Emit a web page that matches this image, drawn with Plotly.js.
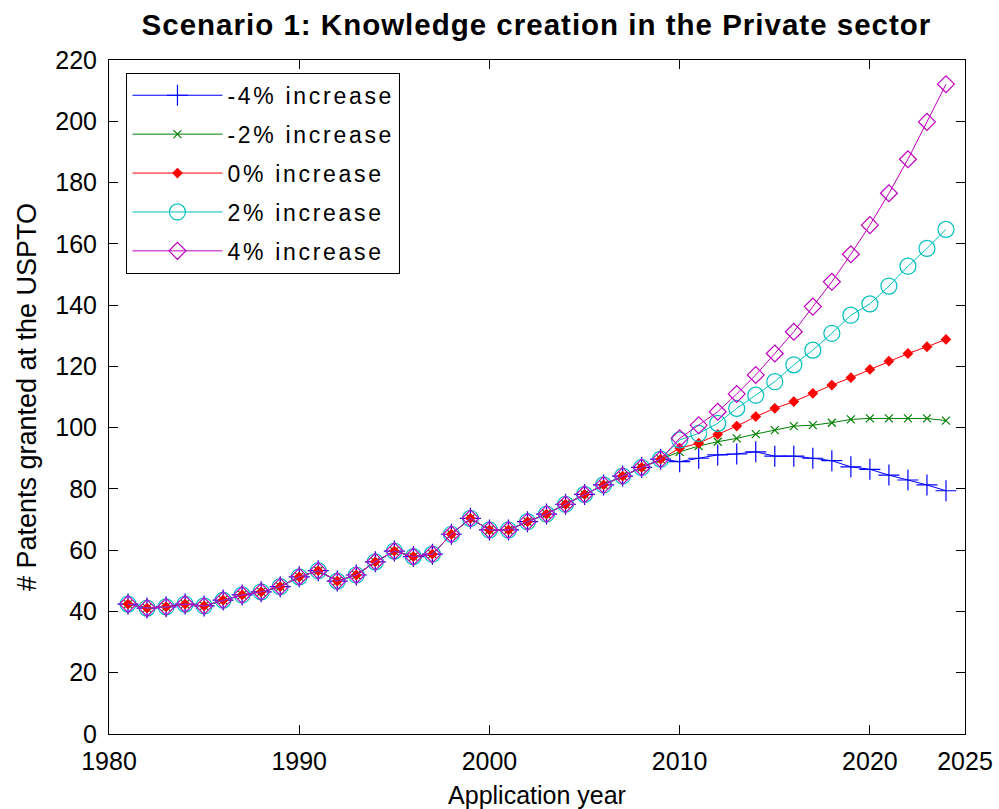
<!DOCTYPE html>
<html><head><meta charset="utf-8">
<script src="https://cdn.plot.ly/plotly-3.0.1.min.js"></script>
<style>
html,body{margin:0;padding:0;background:#fff;}
#chart{width:999px;height:809px;}
.legendtext{letter-spacing:2.7px;}
.gtitle{letter-spacing:1px;}
</style>
</head><body><div id="chart"></div>
<script>
// Observed years (shared by all scenarios)
const histYears = [1981,1982,1983,1984,1985,1986,1987,1988,1989,1990,1991,1992,1993,1994,1995,
                   1996,1997,1998,1999,2000,2001,2002,2003,2004,2005,2006,2007,2008,2009];
const histValues = [42.4,41.1,41.5,42.4,41.8,43.7,45.4,46.4,48.1,51.3,53.3,49.9,51.9,56.2,59.7,
                    57.9,58.7,65.2,70.4,66.6,66.6,69.3,71.8,75.0,78.2,81.3,84.2,87.0,89.7];
// Projection years
const projYears = [2010,2011,2012,2013,2014,2015,2016,2017,2018,2019,2020,2021,2022,2023,2024];
const projM4 = [88.9,90.0,91.1,91.4,92.1,90.7,90.7,90.0,89.2,87.2,86.4,84.5,82.9,81.3,79.4];
const projM2 = [92.1,94.0,95.4,96.5,97.9,99.2,100.5,100.8,101.6,102.7,103.0,103.0,103.0,103.0,102.3];
const proj0  = [93.3,94.9,97.8,100.5,103.6,106.3,108.5,111.2,113.9,116.3,119.0,121.7,124.2,126.4,128.8];
const projP2 = [96.0,98.1,101.4,106.3,110.6,115.0,120.5,125.3,130.8,136.7,140.4,146.2,152.7,158.5,164.7];
const projP4 = [96.5,100.8,105.2,111.0,117.2,124.2,131.3,139.5,147.6,156.6,166.1,176.5,187.6,199.8,212.1];

const seriesNames = ['-4% increase','-2% increase','0% increase','2% increase','4% increase'];
const xTickVals = [1980,1990,2000,2010,2020,2025];
const yTickVals = [0,20,40,60,80,100,120,140,160,180,200,220];

const proj = [projM4, projM2, proj0, projP2, projP4];
const colors = ['#0000FF','#008000','#FF0000','#00BFBF','#BF00BF'];
const symbols = ['cross-thin-open','x-thin-open','diamond','circle-open','diamond-open'];
const sizes = [15,8,7,16,13];

const allYears = histYears.concat(projYears);
const traces = proj.map((p,i)=>({
  type:'scatter', mode:'lines+markers',
  x: allYears, y: histValues.concat(p),
  name: seriesNames[i], legendgroup: 'g'+i,
  line:{color:colors[i], width:1},
  marker:{symbol:symbols[i], size:sizes[i], color:colors[i], line:{color:colors[i], width:1.2}}
}));

const font = 'Liberation Sans, Arial, Helvetica, sans-serif';
const layout = {
  width:999, height:809,
  margin:{l:108.5, r:33.5, t:60, b:75, pad:0},
  paper_bgcolor:'#fff', plot_bgcolor:'#fff',
  title:{text:'<b>Scenario 1: Knowledge creation in the Private sector</b>',
         font:{family:font, size:29.5, color:'#000'}, x:0.537, xanchor:'center', y:0.970, yanchor:'middle'},
  xaxis:{range:[1980,2025], tickvals:xTickVals, ticktext:xTickVals.map(String),
         ticks:'inside', ticklen:9, tickwidth:1, tickcolor:'#000',
         showline:true, linecolor:'#000', linewidth:1, mirror:'ticks',
         showgrid:false, zeroline:false,
         tickfont:{family:font, size:25, color:'#000'}, ticklabelstandoff:5,
         title:{text:'Application year', font:{family:font, size:25, color:'#000'}, standoff:12}},
  yaxis:{range:[0,220], tickvals:yTickVals, ticktext:yTickVals.map(String),
         ticks:'inside', ticklen:9, tickwidth:1, tickcolor:'#000',
         showline:true, linecolor:'#000', linewidth:1, mirror:'ticks',
         showgrid:false, zeroline:false,
         tickfont:{family:font, size:25, color:'#000'}, ticklabelstandoff:6,
         title:{text:'# Patents granted at the USPTO', font:{family:font, size:27, color:'#000'}, standoff:10}},
  legend:{x:0.0204, xanchor:'left', y:0.981, yanchor:'top',
          bgcolor:'#fff', bordercolor:'#000', borderwidth:1,
          font:{family:font, size:23, color:'#000'},
          tracegroupgap:6, itemwidth:90, traceorder:'grouped'},
  showlegend:true
};
Plotly.newPlot('chart', traces, layout, {displayModeBar:false, staticPlot:true});
</script>
</body></html>
